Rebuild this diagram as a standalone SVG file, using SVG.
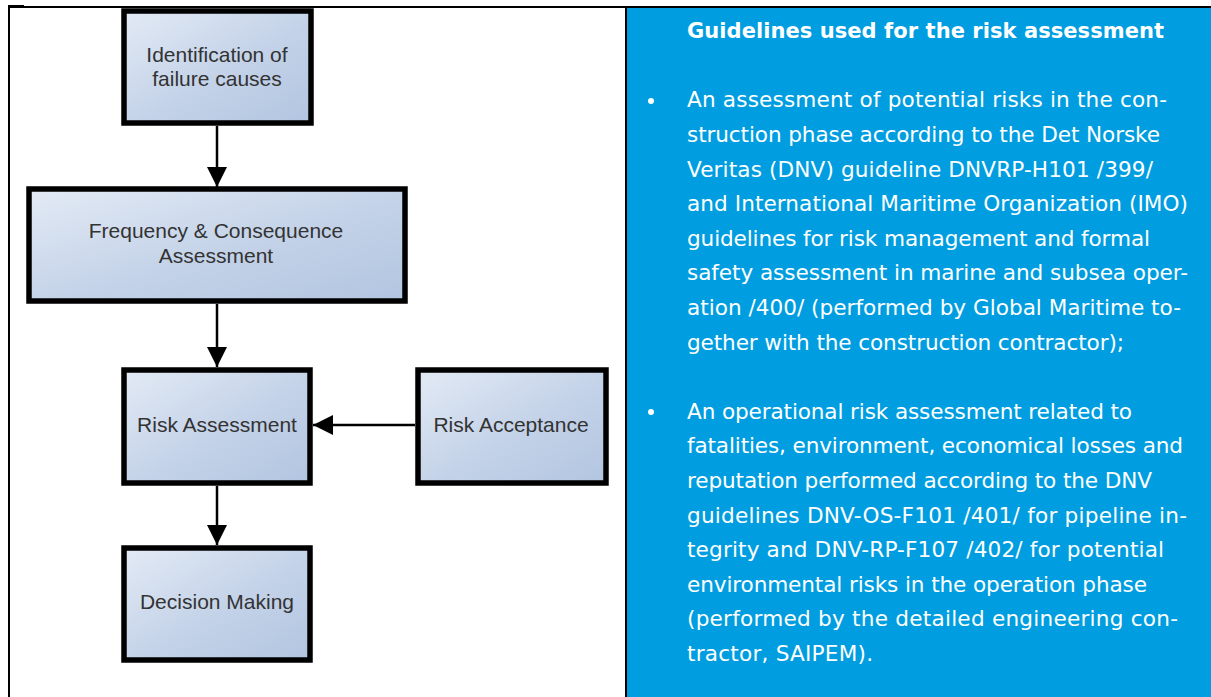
<svg xmlns="http://www.w3.org/2000/svg" width="1211" height="697" viewBox="0 0 1211 697">
  <style>
    .box { stroke: #000; stroke-width: 5.5; fill: url(#boxFill); }
    .lbl { font-family: "Liberation Sans", Arial, sans-serif; font-size: 21px; fill: #333; text-anchor: middle; }
    .conn { stroke: #000; stroke-width: 2.5; fill: none; marker-end: url(#arrow); }
    .title { font-family: "DejaVu Sans", Verdana, sans-serif; font-size: 21px; font-weight: bold; fill: #fff; }
    .body { font-family: "DejaVu Sans", Verdana, sans-serif; font-size: 21.6px; fill: #fff; }
  </style>
  <defs>
    <linearGradient id="boxFill" x1="0" y1="0" x2="1" y2="1">
      <stop offset="0" stop-color="#e3eaf5"/>
      <stop offset="0.55" stop-color="#c3d2e8"/>
      <stop offset="1" stop-color="#b2c5e0"/>
    </linearGradient>
    <marker id="arrow" markerUnits="userSpaceOnUse" markerWidth="20" markerHeight="20" viewBox="0 0 20 20" refX="20" refY="10" orient="auto">
      <path d="M0,0 L20,10 L0,20 Z" fill="#000"/>
    </marker>
  </defs>

  <rect width="1211" height="697" fill="#fff"/>

  <!-- table frame -->
  <g id="frame">
    <rect x="627" y="7" width="584" height="690" fill="#009ee0"/>
    <line x1="8" y1="7" x2="1211" y2="7" stroke="#000" stroke-width="2"/>
    <rect x="8" y="5" width="16" height="3" fill="#000"/>
    <line x1="9" y1="6" x2="9" y2="697" stroke="#000" stroke-width="2"/>
    <line x1="626" y1="6" x2="626" y2="697" stroke="#000" stroke-width="2"/>
  </g>

  <!-- connectors -->
  <g id="connectors">
    <line class="conn" x1="217" y1="126" x2="217" y2="187"/>
    <line class="conn" x1="217" y1="304" x2="217" y2="367"/>
    <line class="conn" x1="217" y1="486" x2="217" y2="545"/>
    <line class="conn" x1="415" y1="425" x2="313" y2="425"/>
  </g>

  <g id="identification">
    <rect class="box" x="124" y="11" width="187" height="112"/>
    <text class="lbl" x="217" y="62">Identification of</text>
    <text class="lbl" x="217" y="86">failure causes</text>
  </g>

  <g id="frequency">
    <rect class="box" x="29" y="189" width="376" height="112"/>
    <text class="lbl" x="216" y="238">Frequency &amp; Consequence</text>
    <text class="lbl" x="216" y="263">Assessment</text>
  </g>

  <g id="risk-assessment">
    <rect class="box" x="124" y="370" width="186" height="113"/>
    <text class="lbl" x="217" y="432">Risk Assessment</text>
  </g>

  <g id="risk-acceptance">
    <rect class="box" x="418" y="370" width="188" height="113"/>
    <text class="lbl" x="511" y="432">Risk Acceptance</text>
  </g>

  <g id="decision">
    <rect class="box" x="124" y="548" width="186" height="112"/>
    <text class="lbl" x="217" y="609">Decision Making</text>
  </g>

  <!-- guidelines panel -->
  <g id="guidelines">
    <text class="title" x="687" y="38" textLength="477" lengthAdjust="spacing">Guidelines used for the risk assessment</text>

    <circle cx="651" cy="101" r="3" fill="#fff"/>
    <text class="body" x="687" y="107.3" textLength="480" lengthAdjust="spacing">An assessment of potential risks in the con-</text>
    <text class="body" x="687" y="141.9" textLength="473" lengthAdjust="spacing">struction phase according to the Det Norske</text>
    <text class="body" x="687" y="176.5" textLength="466" lengthAdjust="spacing">Veritas (DNV) guideline DNVRP-H101 /399/</text>
    <text class="body" x="687" y="211.1" textLength="501" lengthAdjust="spacing">and International Maritime Organization (IMO)</text>
    <text class="body" x="687" y="245.7" textLength="463" lengthAdjust="spacing">guidelines for risk management and formal</text>
    <text class="body" x="687" y="280.3" textLength="501" lengthAdjust="spacing">safety assessment in marine and subsea oper-</text>
    <text class="body" x="687" y="314.9" textLength="494" lengthAdjust="spacing">ation /400/ (performed by Global Maritime to-</text>
    <text class="body" x="687" y="349.5" textLength="437" lengthAdjust="spacing">gether with the construction contractor);</text>

    <circle cx="651" cy="412" r="3" fill="#fff"/>
    <text class="body" x="687" y="418.7" textLength="445" lengthAdjust="spacing">An operational risk assessment related to</text>
    <text class="body" x="687" y="453.3" textLength="496" lengthAdjust="spacing">fatalities, environment, economical losses and</text>
    <text class="body" x="687" y="487.9" textLength="465" lengthAdjust="spacing">reputation performed according to the DNV</text>
    <text class="body" x="687" y="522.5" textLength="500" lengthAdjust="spacing">guidelines DNV-OS-F101 /401/ for pipeline in-</text>
    <text class="body" x="687" y="557.1" textLength="477" lengthAdjust="spacing">tegrity and DNV-RP-F107 /402/ for potential</text>
    <text class="body" x="687" y="591.7" textLength="460" lengthAdjust="spacing">environmental risks in the operation phase</text>
    <text class="body" x="687" y="626.3" textLength="491" lengthAdjust="spacing">(performed by the detailed engineering con-</text>
    <text class="body" x="687" y="660.9" textLength="186" lengthAdjust="spacing">tractor, SAIPEM).</text>
  </g>
</svg>
